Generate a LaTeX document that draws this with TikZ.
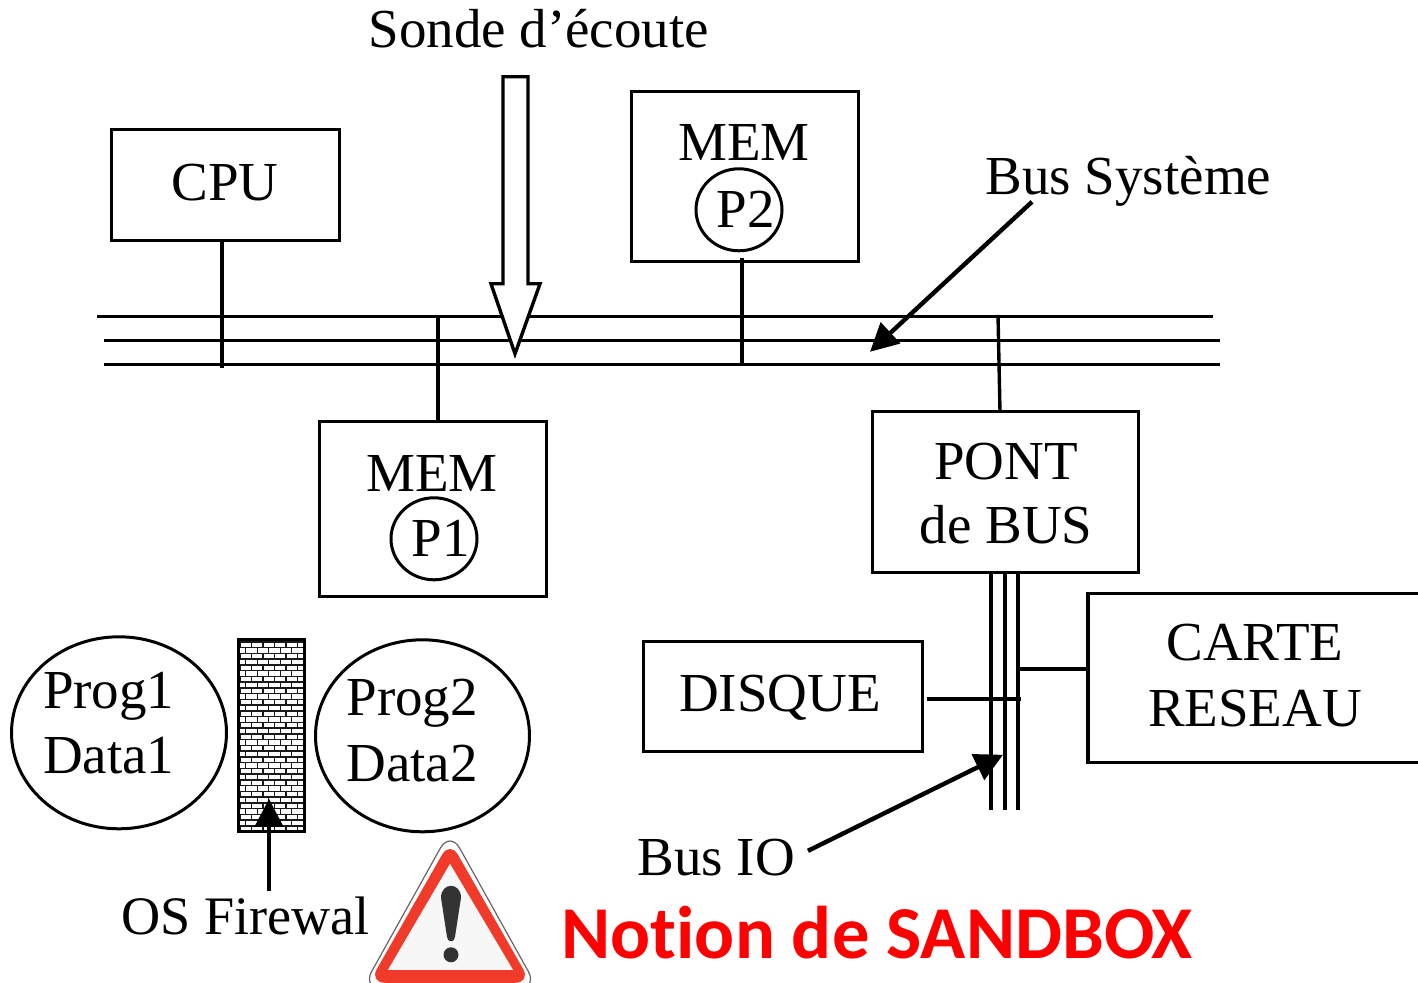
\documentclass[tikz,border=0pt]{standalone}
\usepackage{fontspec}
\setmainfont{Liberation Serif}
\newfontfamily\notionfont[Ligatures=NoCommon]{Carlito}
\usetikzlibrary{arrows.meta,shapes.geometric}
\tikzset{
  ln/.style={line width=1.7pt,black},
  thick line/.style={line width=2.2pt,black,-{Triangle[length=14pt,width=14pt]}},
  boxn/.style={draw=black,line width=1.6pt,inner sep=0pt,rectangle,fill=white},
  ell/.style={draw=black,line width=1.5pt,inner sep=0pt,ellipse},
  lab/.style={inner sep=0pt,outer sep=0pt,anchor=base,font=\fontsize{27.5}{30}\selectfont},
  labw/.style={lab,anchor=base west},
}
\begin{document}
\begin{tikzpicture}[x=0.5pt,y=-0.5pt]
\useasboundingbox (0,-0.8) rectangle (1418,982.2);
\clip (0,-0.8) rectangle (1418,982.2);
% bus coordinates
\coordinate (b1w) at (97,316); \coordinate (b1e) at (1213,316);
\coordinate (b2w) at (104,340); \coordinate (b2e) at (1220,340);
\coordinate (b3w) at (104,364); \coordinate (b3e) at (1220,364);
\draw[ln] (b1w)--(b1e); \draw[ln] (b2w)--(b2e); \draw[ln] (b3w)--(b3e);
% boxes
\node[boxn,minimum width=114pt,minimum height=55.5pt] (cpu) at (225.5,184.5) {};
\node[boxn,minimum width=113.5pt,minimum height=85pt] (mem2) at (744.8,176) {};
\node[boxn,minimum width=113.5pt,minimum height=87.5pt] (mem1) at (432.8,508.5) {};
\node[boxn,minimum width=133pt,minimum height=80.5pt] (pont) at (1005.3,491.5) {};
\node[boxn,minimum width=139.5pt,minimum height=55pt] (disque) at (782.8,696) {};
\node[boxn,minimum width=171pt,minimum height=84.5pt] (carte) at (1259,677.5) {};
% taps
\coordinate (t1) at (222,367); \coordinate (t1a) at (222,238);
\coordinate (t2) at (742,362); \coordinate (t2a) at (742,257);
\coordinate (t3) at (438,314);
\coordinate (t4) at (998,314); \coordinate (t4a) at (1000,411);
\draw[ln] (t1a)--(t1);
\draw[ln] (t2a)--(t2);
\draw[ln] (t3)--(t3 |- mem1.north);
\draw[ln] (t4)--(t4a);
% Sonde arrow
\coordinate (tip) at (515,353);
\draw[ln,fill=white,line join=miter] (503,76)--(528,76)--(528,283)--(540,283)--(tip)--(491,283)--(503,283)--cycle;
% Circles
\node[ell,minimum width=43pt,minimum height=41pt] (p2) at (739,209) {};
\node[ell,minimum width=43pt,minimum height=41pt] (p1) at (434,538) {};
\node[ell,minimum width=107.5pt,minimum height=96pt] (e1) at (119,732) {};
\node[ell,minimum width=107pt,minimum height=96pt] (e2) at (422.5,735) {};
% IO bus
\coordinate (v1a) at (991,573); \coordinate (v1b) at (991,809);
\coordinate (v2a) at (1005,573); \coordinate (v2b) at (1005,809);
\coordinate (v3a) at (1018,573); \coordinate (v3b) at (1018,809);
\draw[ln] (v1a)--(v1b); \draw[ln] (v2a)--(v2b); \draw[ln] (v3a)--(v3b);
\coordinate (dE) at (927,698); \coordinate (dF) at (1021,698);
\draw[ln] (dE)--(dF);
\coordinate (cL) at (1018,668);
\draw[ln] (cL)--(cL -| carte.west);
% firewall
\begin{scope}
\clip (238,638) rectangle (305,831);
\foreach \i in {0,...,33} {
  \pgfmathsetmacro\yy{641+5.75*\i}
  \draw[line width=0.7pt,black!90] (238,\yy)--(305,\yy);
  \pgfmathsetmacro\off{mod(\i,2)==0?0:5.75}
  \foreach \k in {0,...,6} {
    \pgfmathsetmacro\xx{240+\off+11.5*\k}
    \pgfmathsetmacro\yb{\yy+5.75}
    \draw[line width=0.7pt,black!90] (\xx,\yy)--(\xx,\yb);
  }
}
\end{scope}
\node[draw=black,line width=1.6pt,inner sep=0pt,minimum width=33pt,minimum height=96pt] (fw) at (271.5,734.5) {};
% arrows
\coordinate (a1s) at (1032,201); \coordinate (a1e) at (870,351);
\draw[thick line] (a1s)--(a1e);
\coordinate (a2s) at (808,850); \coordinate (a2e) at (1003,754);
\draw[thick line] (a2s)--(a2e);
\coordinate (a3s) at (269,890); \coordinate (a3e) at (269,798);
\draw[thick line] (a3s)--(a3e);
% warning sign
\draw[line width=0.6pt,black!60,fill=white,rounded corners=10pt] (450,830)--(538,988)--(362,988)--cycle;
\fill[fill={rgb,255:red,240;green,58;blue,42},rounded corners=8pt] (450,840)--(531,982)--(369,982)--cycle;
\fill[fill=black!3] (450,863)--(513,969)--(388,969)--cycle;
\fill[black!80] (441,897) .. controls (441,881) and (461,881) .. (461,897) -- (455,936) .. controls (455,942) and (447,942) .. (447,936) -- cycle;
\fill[black!80] (451,954) circle[radius=7.5];
% texts
\node[labw] (tSonde) at (368.5,47) {Sonde d’écoute};
\node[lab] (tCpu) at (225,200) {CPU};
\node[lab] (tMem2) at (744,160) {MEM};
\node[lab] (tP2) at (745.5,227) {P2};
\node[labw] (tBus) at (985.5,194) {Bus Système};
\node[lab] (tMem1) at (432,491) {MEM};
\node[lab] (tP1) at (441,556) {P1};
\node[lab] (tPont) at (1006,479) {PONT};
\node[lab] (tDeBus) at (1006,543) {de BUS};
\node[lab] (tCarte) at (1255,660) {CARTE};
\node[lab] (tRes) at (1255,726) {RESEAU};
\node[lab] (tDis) at (780,711) {DISQUE};
\node[labw] (tP1a) at (43,708) {Prog1};
\node[labw] (tD1) at (43,773) {Data1};
\node[labw] (tP2a) at (346.5,714.5) {Prog2};
\node[labw] (tD2) at (346.5,780.5) {Data2};
\node[labw] (tIO) at (637.5,875) {Bus IO};
\node[labw,font=\fontsize{27.1}{30}\selectfont] (tFw) at (121.5,934) {OS Firewal};
\node[inner sep=0pt,anchor=base west,text=red,font=\notionfont\bfseries\fontsize{37.3}{39}\selectfont] (tNot) at (561,957.5) {Notion de SANDBOX};
\end{tikzpicture}
\end{document}
